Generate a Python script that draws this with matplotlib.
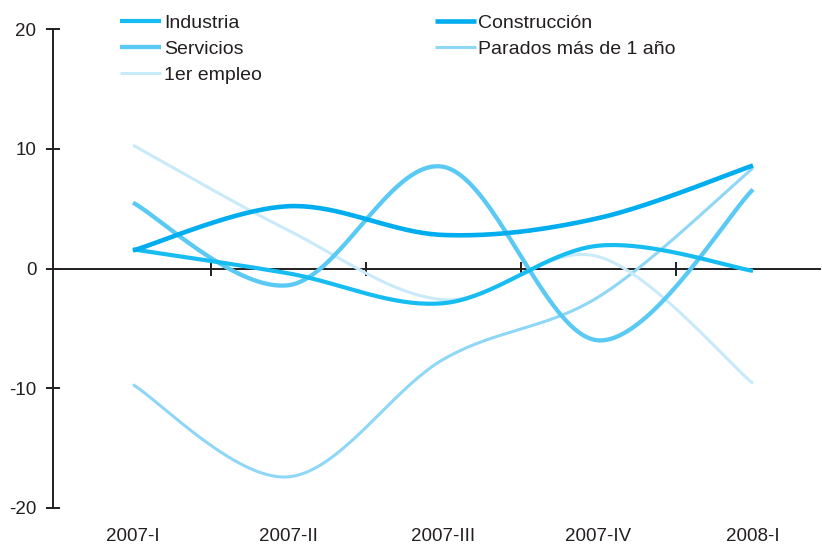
import numpy as np
import matplotlib
matplotlib.use("Agg")
import matplotlib.pyplot as plt

plt.rcParams['font.family'] = ['Liberation Sans', 'DejaVu Sans']
plt.rcParams['axes.unicode_minus'] = False

categories = ["2007-I", "2007-II", "2007-III", "2007-IV", "2008-I"]
industria = [1.6, -0.4, -2.9, 1.9, -0.2]
construccion = [1.5, 5.2, 2.8, 4.2, 8.6]
servicios = [5.5, -1.4, 8.5, -6.0, 6.6]
parados = [-9.7, -17.4, -7.6, -2.4, 8.4]
primer_empleo = [10.3, 3.2, -2.6, 1.0, -9.6]

series = [
    ("Industria", industria, "#17BDF0", 3.0),
    ("Servicios", servicios, "#5ACAF4", 3.1),
    ("1er empleo", primer_empleo, "#C8EAF9", 2.2),
    ("Construcción", construccion, "#00ADEE", 3.3),
    ("Parados más de 1 año", parados, "#8FD7F6", 2.2),
]


def smooth(xs, ys, n=40):
    # Catmull-Rom style Bezier smoothing (like spreadsheet "smoothed line")
    xs = np.asarray(xs, float)
    ys = np.asarray(ys, float)
    px = np.concatenate([[xs[0]], xs, [xs[-1]]])
    py = np.concatenate([[ys[0]], ys, [ys[-1]]])
    ox, oy = [], []
    for i in range(1, len(px) - 2):
        p0 = np.array([px[i], py[i]])
        p3 = np.array([px[i + 1], py[i + 1]])
        c1 = p0 + (p3 - np.array([px[i - 1], py[i - 1]])) / 6.0
        c2 = p3 - (np.array([px[i + 2], py[i + 2]]) - p0) / 6.0
        t = np.linspace(0, 1, n)[:, None]
        pts = ((1 - t) ** 3) * p0 + 3 * ((1 - t) ** 2) * t * c1 + 3 * (1 - t) * t ** 2 * c2 + t ** 3 * p3
        if i > 1:
            pts = pts[1:]
        ox.extend(pts[:, 0])
        oy.extend(pts[:, 1])
    return np.array(ox), np.array(oy)


W, H = 822, 545
fig = plt.figure(figsize=(W / 100, H / 100), dpi=100)
left_px, right_px, top_px, bot_px = 53, 820, 29, 508
ax = fig.add_axes([left_px / W, (H - bot_px) / H, (right_px - left_px) / W, (bot_px - top_px) / H])

x = np.arange(len(categories))
x0_px, step_px = 133, 155
ax.set_xlim((left_px - x0_px) / step_px, (right_px - x0_px) / step_px)
ax.set_ylim(-20, 20)

draw_order = ["Parados más de 1 año", "1er empleo", "Servicios", "Industria", "Construcción"]
handles = {}
for name, vals, color, lw in series:
    sx, sy = smooth(x, vals)
    z = 3 + draw_order.index(name)
    line, = ax.plot(sx, sy, color=color, lw=lw, solid_capstyle='butt', zorder=z, label=name)
    handles[name] = line

axis_color = "#231F20"
for s in ["top", "right"]:
    ax.spines[s].set_visible(False)
ax.spines['left'].set_color(axis_color)
ax.spines['left'].set_linewidth(1.4)
ax.spines['bottom'].set_position(('data', 0))
ax.spines['bottom'].set_color(axis_color)
ax.spines['bottom'].set_linewidth(1.4)
ax.spines['bottom'].set_zorder(2)

ax.set_yticks([-20, -10, 0, 10, 20])
ax.tick_params(axis='y', direction='inout', length=10, width=1.4, color=axis_color,
               labelsize=13.5, labelcolor=axis_color, pad=7)
ax.set_xticks(x[:-1] + 0.5)
ax.set_xticklabels([])
ax.tick_params(axis='x', direction='inout', length=10, width=1.4, color=axis_color)

for xi, lab in zip(x, categories):
    ax.text(xi, -22.4, lab, ha='center', va='center', fontsize=13.5, color=axis_color, clip_on=False)

order = ["Industria", "Servicios", "1er empleo", "Construcción", "Parados más de 1 año"]
leg = ax.legend([handles[n] for n in order], order, ncol=2, frameon=False,
                loc='upper left', bbox_to_anchor=((120 - left_px) / (right_px - left_px), 1.031),
                fontsize=14, handlelength=2.1, handletextpad=0.15, columnspacing=8.9,
                labelspacing=0.44, borderaxespad=0, borderpad=0)
for t in leg.get_texts():
    t.set_color(axis_color)

fig.savefig("out.png", dpi=100)
